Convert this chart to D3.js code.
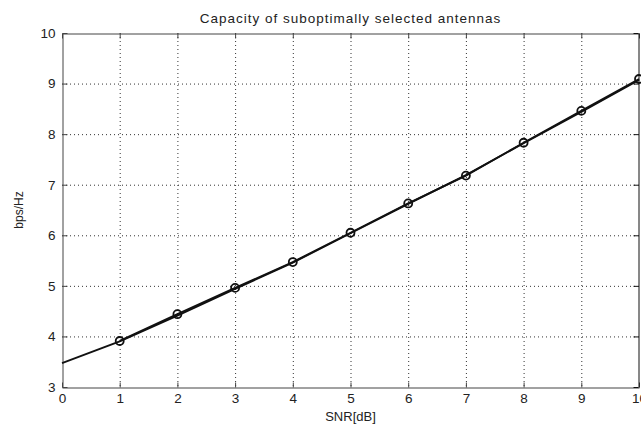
<!DOCTYPE html>
<html>
<head>
<meta charset="utf-8">
<script src="https://cdn.jsdelivr.net/npm/d3@7"></script>
<style>
  body { margin: 0; background: #fff; }
  text { font-family: Arial, "Liberation Sans", sans-serif; fill: #222; }
</style>
</head>
<body>
<svg id="chart" width="641" height="426"></svg>
<script>
// data
const snr = [0, 1, 2, 3, 4, 5, 6, 7, 8, 9, 10];
const capMarked = [null, 3.91, 4.44, 4.96, 5.47, 6.05, 6.63, 7.18, 7.83, 8.46, 9.09];
const capLine = [3.47, 3.90, 4.41, 4.94, 5.46, 6.04, 6.62, 7.19, 7.82, 8.44, 9.07];
const xTicks = [0, 1, 2, 3, 4, 5, 6, 7, 8, 9, 10];
const yTicks = [3, 4, 5, 6, 7, 8, 9, 10];

const svg = d3.select('#chart');
const mLeft = 62, mRight = 639, mTop = 33, mBottom = 387;

const x = d3.scaleLinear().domain([0, 10]).range([mLeft, mRight]);
const y = d3.scaleLinear().domain([3, 10]).range([mBottom, mTop]);

// grid
const grid = svg.append('g')
  .attr('stroke', '#333')
  .attr('stroke-width', 1)
  .attr('stroke-dasharray', '1,3');
grid.selectAll('line.gx')
  .data(xTicks.slice(1, -1))
  .enter().append('line')
  .attr('x1', d => x(d) + 0.5).attr('x2', d => x(d) + 0.5)
  .attr('y1', mTop).attr('y2', mBottom);
grid.selectAll('line.gy')
  .data(yTicks.slice(1, -1))
  .enter().append('line')
  .attr('y1', d => y(d) + 0.5).attr('y2', d => y(d) + 0.5)
  .attr('x1', mLeft).attr('x2', mRight);

// axes (ticks inward, matlab style)
svg.append('g')
  .attr('transform', `translate(0,${mBottom + 0.5})`)
  .call(d3.axisBottom(x).tickValues(xTicks).tickFormat(d3.format('d')).tickSizeInner(-5).tickSizeOuter(0).tickPadding(6))
  .call(g => g.select('.domain').attr('stroke', '#444'))
  .call(g => g.selectAll('.tick line').attr('stroke', '#444'))
  .call(g => g.selectAll('text').attr('font-size', 13.5).attr('fill', '#222'));

svg.append('g')
  .attr('transform', `translate(0,${mTop + 0.5})`)
  .call(d3.axisTop(x).tickValues(xTicks).tickSizeInner(-5).tickSizeOuter(0).tickFormat(''))
  .call(g => g.selectAll('path, line').attr('stroke', '#444'));

svg.append('g')
  .attr('transform', `translate(${mLeft + 0.5},0)`)
  .call(d3.axisLeft(y).tickValues(yTicks).tickFormat(d3.format('d')).tickSizeInner(-5).tickSizeOuter(0).tickPadding(7))
  .call(g => g.select('.domain').attr('stroke', '#444'))
  .call(g => g.selectAll('.tick line').attr('stroke', '#444'))
  .call(g => g.selectAll('text').attr('font-size', 13.5).attr('fill', '#222'));

svg.append('g')
  .attr('transform', `translate(${mRight - 0.5},0)`)
  .call(d3.axisRight(y).tickValues(yTicks).tickSizeInner(-5).tickSizeOuter(0).tickFormat(''))
  .call(g => g.selectAll('path, line').attr('stroke', '#111'));

// lines
const line = d3.line()
  .defined(d => d[1] != null)
  .x(d => x(d[0])).y(d => y(d[1]));

svg.append('path')
  .datum(snr.map((s, i) => [s, capLine[i]]))
  .attr('fill', 'none').attr('stroke', '#111').attr('stroke-width', 1.9)
  .attr('d', line);

svg.append('path')
  .datum(snr.map((s, i) => [s, capMarked[i]]))
  .attr('fill', 'none').attr('stroke', '#111').attr('stroke-width', 1.9)
  .attr('d', line);

svg.append('g')
  .selectAll('circle')
  .data(snr.map((s, i) => [s, capMarked[i]]).filter(d => d[1] != null))
  .enter().append('circle')
  .attr('cx', d => x(d[0])).attr('cy', d => y(d[1]))
  .attr('r', 4)
  .attr('fill', 'none').attr('stroke', '#111').attr('stroke-width', 1.8);

// labels
svg.append('text')
  .attr('x', (mLeft + mRight) / 2).attr('y', 23)
  .attr('text-anchor', 'middle')
  .attr('font-size', 13.5)
  .attr('letter-spacing', 1)
  .text('Capacity of suboptimally selected antennas');

svg.append('text')
  .attr('x', (mLeft + mRight) / 2).attr('y', 421)
  .attr('text-anchor', 'middle')
  .attr('font-size', 13)
  .text('SNR[dB]');

svg.append('text')
  .attr('transform', `translate(23,${(mTop + mBottom) / 2}) rotate(-90)`)
  .attr('text-anchor', 'middle')
  .attr('font-size', 12)
  .text('bps/Hz');
</script>
</body>
</html>
